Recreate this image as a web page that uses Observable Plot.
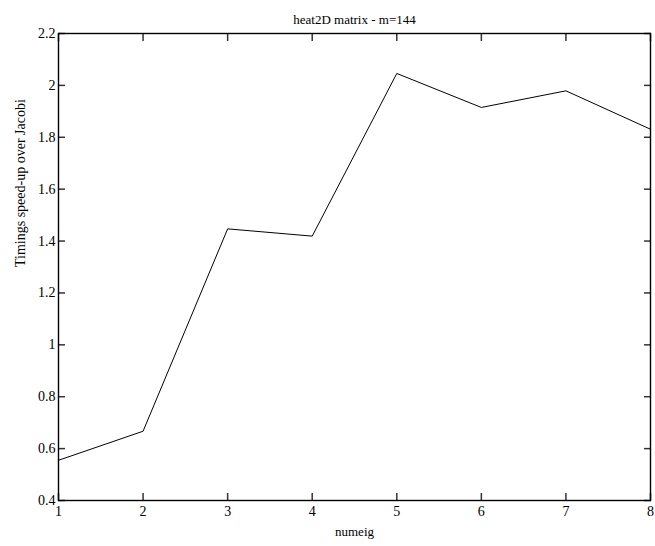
<!DOCTYPE html>
<html>
<head>
<meta charset="utf-8">
<script src="https://cdn.jsdelivr.net/npm/d3@7"></script>
<script src="https://cdn.jsdelivr.net/npm/@observablehq/plot@0.6"></script>
<style>
  html, body { margin: 0; padding: 0; background: #fff; }
  svg, svg text { font-family: "Liberation Serif", "Times New Roman", serif !important; }
</style>
</head>
<body>
<div id="chart"></div>
<script>
const numeig = [1, 2, 3, 4, 5, 6, 7, 8];
const speedup = [0.555, 0.667, 1.447, 1.419, 2.046, 1.915, 1.979, 1.831];
const xTicks = [1, 2, 3, 4, 5, 6, 7, 8];
const yTicks = [0.4, 0.6, 0.8, 1, 1.2, 1.4, 1.6, 1.8, 2, 2.2];
const title = "heat2D matrix - m=144";
const xLabel = "numeig";
const yLabel = "Timings speed-up over Jacobi";

const data = numeig.map((x, i) => ({x, y: speedup[i]}));
const fmt = d => String(+d.toFixed(1));
const tickLen = 7;

const chart = Plot.plot({
  width: 655,
  height: 546,
  marginLeft: 58,
  marginRight: 5,
  marginTop: 33,
  marginBottom: 46,
  style: {fontFamily: "Liberation Serif, serif", fontSize: "14px", color: "#000", background: "#fff"},
  x: {domain: [1, 8]},
  y: {domain: [0.4, 2.2]},
  marks: [
    Plot.axisX(xTicks, {anchor: "bottom", tickSize: 0, tickPadding: 6, label: null, tickFormat: fmt, fill: "#000", fontSize: 14}),
    Plot.axisY(yTicks, {anchor: "left", tickSize: 0, tickPadding: 3, label: null, tickFormat: fmt, fill: "#000", fontSize: 14}),
    Plot.axisX(xTicks, {anchor: "bottom", tickSize: tickLen, dy: -tickLen, label: null, text: null, stroke: "#333", strokeWidth: 1.5}),
    Plot.axisX(xTicks, {anchor: "top", tickSize: tickLen, dy: tickLen, label: null, text: null, stroke: "#333", strokeWidth: 1.5}),
    Plot.axisY(yTicks, {anchor: "left", tickSize: tickLen, dx: tickLen, label: null, text: null, stroke: "#333", strokeWidth: 1.5}),
    Plot.axisY(yTicks, {anchor: "right", tickSize: tickLen, dx: -tickLen, label: null, text: null, stroke: "#333", strokeWidth: 1.5}),
    Plot.frame({stroke: "#000", strokeWidth: 1.4}),
    Plot.line(data, {x: "x", y: "y", stroke: "#000", strokeWidth: 1}),
    Plot.text([title], {frameAnchor: "top", dy: -19, fontSize: 13, fill: "#000"}),
    Plot.text([xLabel], {frameAnchor: "bottom", dy: 35, fontSize: 13, fill: "#000"}),
    Plot.text([yLabel], {frameAnchor: "left", dx: -38, rotate: -90, fontSize: 14, fill: "#000"})
  ]
});
document.getElementById("chart").append(chart);
</script>
</body>
</html>
